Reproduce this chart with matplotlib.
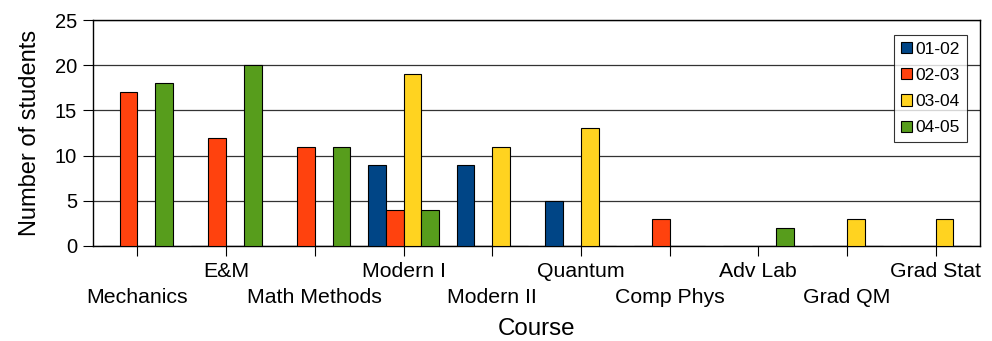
import matplotlib
matplotlib.use("Agg")
import matplotlib.pyplot as plt
import numpy as np

courses = ["Mechanics", "E&M", "Math Methods", "Modern I", "Modern II",
           "Quantum", "Comp Phys", "Adv Lab", "Grad QM", "Grad Stat"]
years = ["01-02", "02-03", "03-04", "04-05"]
y0102 = [0, 0, 0, 9, 9, 5, 0, 0, 0, 0]
y0203 = [17, 12, 11, 4, 0, 0, 3, 0, 0, 0]
y0304 = [0, 0, 0, 19, 11, 13, 0, 0, 3, 3]
y0405 = [18, 20, 11, 4, 0, 0, 0, 2, 0, 0]
series = [y0102, y0203, y0304, y0405]
colors = ["#004586", "#ff420e", "#ffd320", "#579d1c"]

plt.rcParams["font.family"] = ["Liberation Sans", "DejaVu Sans"]

fig = plt.figure(figsize=(9.92, 3.41), dpi=100)
ax = fig.add_axes([0.0938, 0.2786, 0.8942, 0.6627])

x = np.arange(len(courses))
width = 0.2
for i, (vals, col, lab) in enumerate(zip(series, colors, years)):
    ax.bar(x + (i - 1.5) * width, vals, width, color=col, edgecolor="black",
           linewidth=0.8, label=lab, zorder=3)

ax.set_xlim(-0.5, len(courses) - 0.5)
ax.set_ylim(0, 25)
ax.set_yticks([0, 5, 10, 15, 20, 25])
ax.yaxis.grid(True, color="#333333", linewidth=0.9, zorder=0)
ax.set_axisbelow(True)

# alternate the course names over two rows so they do not collide
ax.set_xticks(x)
ax.set_xticklabels(courses, fontsize=15.3)
for i, tick in enumerate(ax.xaxis.get_major_ticks()):
    tick.set_pad(4.8 if i % 2 == 1 else 23)
ax.tick_params(axis="x", length=7, width=0.8, direction="out")
ax.tick_params(axis="y", length=7, width=0.8, direction="out",
               labelsize=14.5, pad=4.5)

for sp in ax.spines.values():
    sp.set_linewidth(1.0)
    sp.set_color("black")

ax.set_ylabel("Number of students", fontsize=17, labelpad=10)
ax.set_xlabel("Course", fontsize=17.4, labelpad=8)

leg = ax.legend(loc="upper right", bbox_to_anchor=(0.985, 0.934),
                borderaxespad=0, fontsize=12.5, frameon=True, fancybox=False,
                labelspacing=0.65, handlelength=0.63, handleheight=0.63,
                handletextpad=0.23, borderpad=0.38)
leg.get_frame().set_edgecolor("black")
leg.get_frame().set_linewidth(0.8)

fig.savefig("out.png", dpi=100)
